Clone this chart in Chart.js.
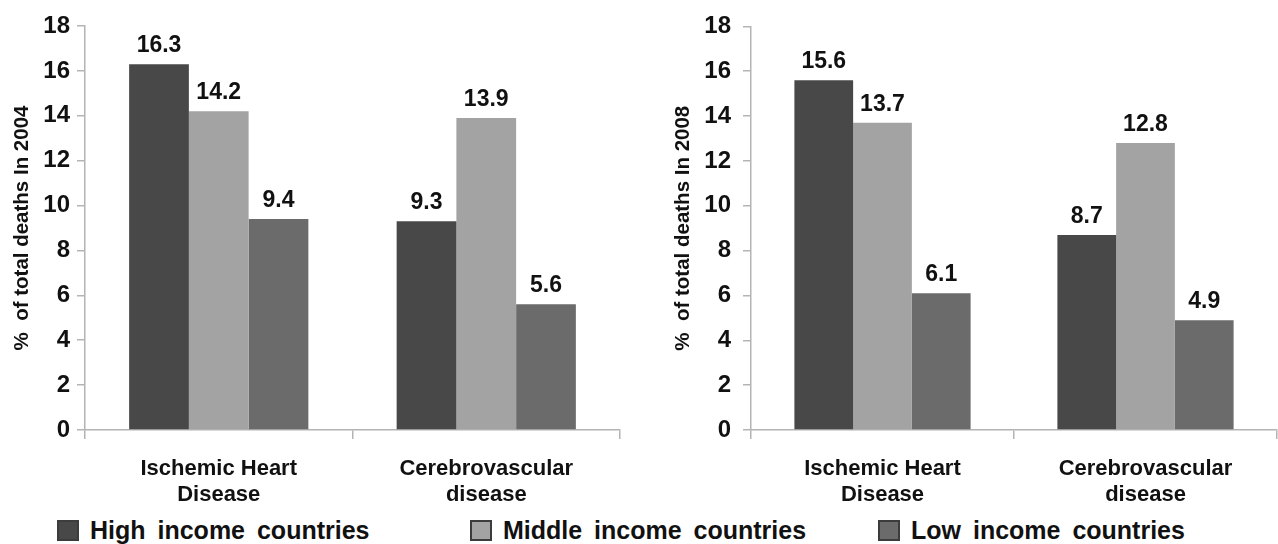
<!DOCTYPE html>
<html>
<head>
<meta charset="utf-8">
<title>Share of total deaths by income group, 2004 and 2008</title>
<script src="https://cdn.jsdelivr.net/npm/chart.js@4/dist/chart.umd.min.js"></script>
<style>
  html, body { margin: 0; padding: 0; background: #fff; }
  #wrap { position: relative; width: 1278px; height: 544px; overflow: hidden;
          font-family: "Liberation Sans", Arial, sans-serif; }
  #wrap canvas { position: absolute; top: 0; }
  #c2004 { left: 0; }
  #c2008 { left: 640px; }
  .legend-item { position: absolute; top: 515px; height: 30px; display: flex; align-items: center;
                 font-weight: bold; font-size: 25px; word-spacing: 5px; color: #111; white-space: nowrap; }
  .swatch { box-sizing: border-box; width: 22px; height: 21px; border: 2px solid #3c3c3c; margin-right: 11px; }
</style>
</head>
<body>
<div id="wrap">
  <canvas id="c2004" width="640" height="510"></canvas>
  <canvas id="c2008" width="638" height="510"></canvas>
</div>
<script>
// Causes of death (x categories), each label split over two lines
const categories = [['Ischemic Heart', 'Disease'], ['Cerebrovascular', 'disease']];

// Income groups
const seriesNames = ['High income countries', 'Middle income countries', 'Low income countries'];
const seriesColors = ['#484848', '#a3a3a3', '#6b6b6b'];

// % of total deaths, 2004
const high2004 = [16.3, 9.3];
const middle2004 = [14.2, 13.9];
const low2004 = [9.4, 5.6];

// % of total deaths, 2008
const high2008 = [15.6, 8.7];
const middle2008 = [13.7, 12.8];
const low2008 = [6.1, 4.9];

// Value axis
const yMin = 0;
const yMax = 18;
const yStep = 2;

const FONT = '"Liberation Sans", Arial, sans-serif';
const AXIS_GREY = '#b4b4b4';
const TEXT = '#111';

// Writes each bar's value above it
const valueLabels = {
  id: 'valueLabels',
  afterDatasetsDraw(chart) {
    const ctx = chart.ctx;
    ctx.save();
    ctx.font = 'bold 23px ' + FONT;
    ctx.fillStyle = TEXT;
    ctx.textAlign = 'center';
    ctx.textBaseline = 'alphabetic';
    chart.data.datasets.forEach((ds, i) => {
      chart.getDatasetMeta(i).data.forEach((bar, j) => {
        ctx.fillText(ds.data[j].toFixed(1), bar.x, bar.y - 12);
      });
    });
    ctx.restore();
  }
};

function makeChart(canvasId, seriesValues, yTitle, yAxisWidth, tickPad, titlePad) {
  const datasets = seriesValues.map((vals, i) => ({
    label: seriesNames[i],
    data: vals,
    backgroundColor: seriesColors[i],
    borderWidth: 0,
    categoryPercentage: 0.67,
    barPercentage: 1.0
  }));
  return new Chart(document.getElementById(canvasId), {
    type: 'bar',
    data: { labels: categories, datasets },
    plugins: [valueLabels],
    options: {
      responsive: false,
      animation: false,
      layout: { padding: { top: 26, right: canvasId === 'c2004' ? 20 : 1, bottom: 0, left: 0 } },
      plugins: { legend: { display: false }, tooltip: { enabled: false } },
      scales: {
        x: {
          offset: true,
          grid: { offset: true, drawOnChartArea: false, drawTicks: true, tickLength: 9, color: AXIS_GREY, lineWidth: 1.5 },
          border: { display: true, color: AXIS_GREY, width: 1.5 },
          ticks: { color: TEXT, padding: 17, maxRotation: 0, autoSkip: false,
                   font: { family: FONT, size: 22, weight: 'bold', lineHeight: 1.18 } },
          afterFit(scale) { scale.height = 80; }
        },
        y: {
          min: yMin, max: yMax,
          grid: { drawOnChartArea: false, drawTicks: true, tickLength: 8, color: AXIS_GREY, lineWidth: 1.5 },
          border: { display: true, color: AXIS_GREY, width: 1.5 },
          ticks: { stepSize: yStep, color: TEXT, padding: tickPad,
                   font: { family: FONT, size: 24, weight: 'bold' } },
          title: { display: true, text: yTitle, color: TEXT, padding: { top: titlePad, bottom: 0 },
                   font: { family: FONT, size: 20.5, weight: 'bold', lineHeight: 1.2 } },
          afterFit(scale) { scale.width = yAxisWidth; }
        }
      }
    }
  });
}

makeChart('c2004', [high2004, middle2004, low2004], '%  of total deaths In 2004', 85, 7, 10);
makeChart('c2008', [high2008, middle2008, low2008], '%  of total deaths In 2008', 111, 12, 31);

// Shared legend below both charts
const legendLeft = [57, 470, 878];
const wrap = document.getElementById('wrap');
seriesNames.forEach((name, i) => {
  const item = document.createElement('div');
  item.className = 'legend-item';
  item.style.left = legendLeft[i] + 'px';
  const sw = document.createElement('span');
  sw.className = 'swatch';
  sw.style.background = seriesColors[i];
  const txt = document.createElement('span');
  txt.textContent = name;
  item.appendChild(sw);
  item.appendChild(txt);
  wrap.appendChild(item);
});
</script>
</body>
</html>
